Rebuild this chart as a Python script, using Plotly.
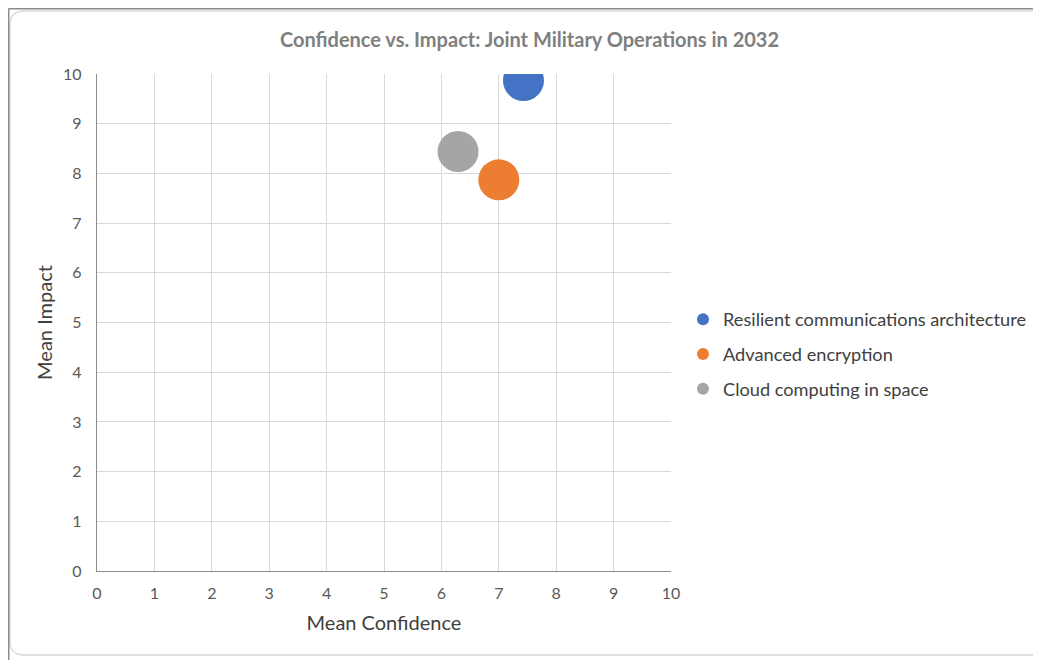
import plotly.graph_objects as go

# ---- data ----
series_names = ["Resilient communications architecture", "Advanced encryption", "Cloud computing in space"]
mean_confidence = [7.43, 7.00, 6.29]
mean_impact = [9.87, 7.87, 8.44]
bubble_sizes = [41, 41, 41]
series_colors = ["#4472C4", "#ED7D31", "#A5A5A5"]
axis_ticks = list(range(0, 11))

# page has an 8px body margin: work in page pixels, convert to figure pixels
OFF = 8
W, H = 1041 - OFF, 660 - OFF
ML, MR, MT, MB = 89, 370, 66, 89
PW, PH = W - ML - MR, H - MT - MB


def px(x):  # page pixel -> paper x
    return (x - OFF - ML) / PW


def py(y):  # page pixel -> paper y
    return (H - MB - (y - OFF)) / PH


fig = go.Figure()
for name, xv, yv, sz, col in zip(series_names, mean_confidence, mean_impact, bubble_sizes, series_colors):
    fig.add_trace(go.Scatter(
        x=[xv], y=[yv], mode="markers", name=name, legendgroup=name,
        marker=dict(size=sz, color=col, line=dict(width=0), opacity=1),
    ))

# chart frame shapes
r = 14
x0, y0, x1, y1 = 10, 11, 1060, 655
path = (f"M {px(x0)},{py(y0 + r)} Q {px(x0)},{py(y0)} {px(x0 + r)},{py(y0)} "
        f"L {px(x1)},{py(y0)} L {px(x1)},{py(y1)} L {px(x0 + r)},{py(y1)} "
        f"Q {px(x0)},{py(y1)} {px(x0)},{py(y1 - r)} Z")
shapes = [
    dict(type="path", xref="paper", yref="paper", path=path,
         line=dict(color="#D9D9D9", width=1.3), fillcolor="rgba(0,0,0,0)", layer="below"),
    dict(type="line", xref="paper", yref="paper", x0=px(8.5), x1=px(1060), y0=py(8.7), y1=py(8.7),
         line=dict(color="#8C8C8C", width=1.6)),
    dict(type="line", xref="paper", yref="paper", x0=px(8.7), x1=px(8.7), y0=py(8.5), y1=py(670),
         line=dict(color="#8C8C8C", width=1.6)),
]

font_family = "Lato, Carlito, 'Open Sans', sans-serif"

fig.update_layout(
    width=W, height=H,
    margin=dict(l=ML, r=MR, t=MT, b=MB, autoexpand=False),
    paper_bgcolor="white", plot_bgcolor="white",
    font=dict(family=font_family, color="#595959"),
    title=dict(text="<b>Confidence vs. Impact: Joint Military Operations in 2032</b>",
               x=(529.5 - OFF) / W, xanchor="center", xref="container",
               y=1 - (40 - OFF) / H, yanchor="middle", yref="container",
               font=dict(size=20, color="#7F7F7F", family=font_family)),
    xaxis=dict(range=[0, 10], tickvals=axis_ticks, showgrid=True, gridcolor="#D9D9D9", gridwidth=1,
               zeroline=False, showline=True, linecolor="#8C8C8C", linewidth=1.3,
               ticks="", ticklabelstandoff=8, tickfont=dict(size=16, color="#595959"),
               title=dict(text="Mean Confidence", font=dict(size=20, color="#404040"), standoff=14),
               fixedrange=True),
    yaxis=dict(range=[0, 10], tickvals=axis_ticks, showgrid=True, gridcolor="#D9D9D9", gridwidth=1,
               zeroline=False, showline=True, linecolor="#8C8C8C", linewidth=1.3,
               ticks="", ticklabelstandoff=11, tickfont=dict(size=16, color="#595959"),
               title=dict(text="Mean Impact", font=dict(size=20, color="#404040"), standoff=5),
               fixedrange=True),
    legend=dict(x=px(683), y=py(301), xanchor="left", yanchor="top", xref="paper", yref="paper",
                font=dict(size=18.2, color="#404040", family=font_family),
                itemsizing="constant", tracegroupgap=8, itemwidth=30,
                bgcolor="rgba(0,0,0,0)"),
    showlegend=True,
    shapes=shapes,
)

fig.write_html("out.html")
